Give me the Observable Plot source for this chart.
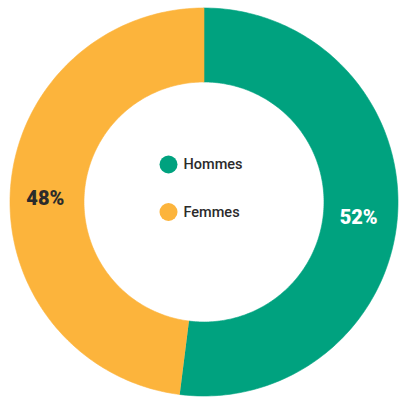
<!DOCTYPE html>
<html>
<head>
<meta charset="utf-8">
<script src="https://cdn.jsdelivr.net/npm/d3@7"></script>
<script src="https://cdn.jsdelivr.net/npm/@observablehq/plot@0.6"></script>
<style>
  html, body { margin: 0; padding: 0; background: #fff; }
  #chart svg { display: block; }
</style>
</head>
<body>
<div id="chart"></div>
<script>
const categories = ["Hommes", "Femmes"];
const values = [52, 48];
const labels = ["52%", "48%"];
const colors = ["#00a27f", "#fcb43c"];
const labelColors = ["#ffffff", "#2b2b2b"];

const W = 404, H = 406;
const cx = 203.5, cy = 201.5;
const outerR = 194, innerR = 120;

const pie = d3.pie().sort(null).startAngle(0).endAngle(2 * Math.PI);
const arcs = pie(values);

// polygon outline of each ring slice (angles measured clockwise from 12 o'clock)
const pts = [];
arcs.forEach((a, i) => {
  const n = 180;
  for (let k = 0; k <= n; k++) {
    const t = a.startAngle + (a.endAngle - a.startAngle) * k / n;
    pts.push({key: categories[i], x: outerR * Math.sin(t), y: outerR * Math.cos(t)});
  }
  for (let k = n; k >= 0; k--) {
    const t = a.startAngle + (a.endAngle - a.startAngle) * k / n;
    pts.push({key: categories[i], x: innerR * Math.sin(t), y: innerR * Math.cos(t)});
  }
});

const midR = (outerR + innerR) / 2;
const centroids = arcs.map((a, i) => {
  const t = (a.startAngle + a.endAngle) / 2;
  return {label: labels[i], x: midR * Math.sin(t), y: midR * Math.cos(t), color: labelColors[i]};
});

const legend = categories.map((c, i) => ({key: c, x: -35.5, y: 37.5 - 47.5 * i}));

const chart = Plot.plot({
  width: W,
  height: H,
  margin: 0,
  x: {domain: [-cx, W - cx], axis: null},
  y: {domain: [-(H - cy), cy], axis: null},
  color: {domain: categories, range: colors},
  style: {fontFamily: "Roboto, sans-serif", background: "#fff"},
  marks: [
    Plot.line(pts, {x: "x", y: "y", z: "key", fill: "key", stroke: "key", strokeWidth: 0.6, curve: "linear"}),
    ...centroids.map(c => Plot.text([c], {x: "x", y: "y", text: "label", fill: c.color, fontSize: 20, fontWeight: 900, dx: -2, dy: 6})),
    Plot.dot(legend, {x: "x", y: "y", r: 9, fill: "key"}),
    Plot.text(legend, {x: d => d.x + 15, y: "y", text: "key", textAnchor: "start", fontSize: 14.5, fontWeight: 500, fill: "#2b2b2b"})
  ]
});
document.getElementById("chart").appendChild(chart);
</script>
</body>
</html>
